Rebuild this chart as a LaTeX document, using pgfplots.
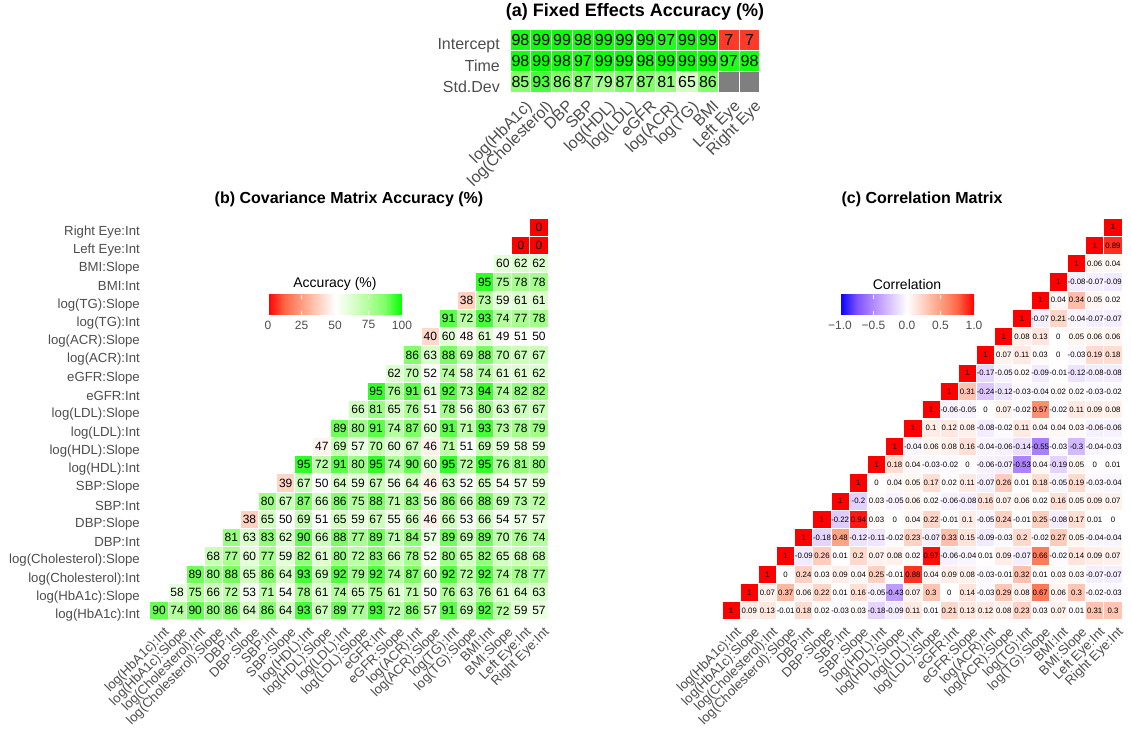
\documentclass[border=0pt]{standalone}
\usepackage{fontspec}
\setmainfont{Liberation Sans}
\usepackage{pgfplots}
\pgfplotsset{compat=1.18}
\definecolor{lbl}{RGB}{77,77,77}
\definecolor{na}{RGB}{127,127,127}
\newcommand\fs[1]{\fontsize{#1pt}{#1pt}\selectfont}
\pgfplotsset{
 /pgf/number format/assume math mode=true,
 colormap={acc}{rgb255=(255,0,0) rgb255=(255,104,70) rgb255=(255,158,129) rgb255=(255,207,191) rgb255=(255,255,255) rgb255=(219,255,205) rgb255=(177,255,154) rgb255=(125,255,100) rgb255=(0,255,0)},
 colormap={corr}{rgb255=(0,0,255) rgb255=(126,81,255) rgb255=(179,139,255) rgb255=(220,196,255) rgb255=(255,255,255) rgb255=(255,207,191) rgb255=(255,158,129) rgb255=(255,104,70) rgb255=(255,0,0)},
 hm/.style={scale only axis, anchor=south west, enlargelimits=false, clip=false,
   axis line style={draw=none}, major tick length=0pt, tick style={draw=none},
   tick label style={text=lbl}},
 cell/.style={point meta=explicit, scatter, only marks, mark=square*, line width=1pt,
   scatter/use mapped color={draw=white, fill=mapped color}},
 txt/.style={draw=none, mark=none, point meta=explicit, nodes near coords, nodes near coords align=center,
   every node near coord/.append style={text=black, inner sep=0pt}},
 cella/.style={cell, mark size=10.4pt},
 cellb/.style={cell, mark size=9.1pt},
 cellc/.style={cell, mark size=9.1pt},
 txta/.style={txt, every node near coord/.append style={font=\fs{16}}},
 txtb/.style={txt, every node near coord/.append style={font=\fs{12}}},
 txtc/.style={txt, every node near coord/.append style={font=\fs{7.8}}},
 /pgfplots/table/rowtab/.style={/pgfplots/table/header=false, /pgfplots/table/row sep=\\,
   /pgfplots/table/x expr=\coordindex+#1, /pgfplots/table/y expr=#1, /pgfplots/table/meta index=0},
 /pgfplots/table/rowa/.style={/pgfplots/table/header=false, /pgfplots/table/row sep=\\,
   /pgfplots/table/x expr=\coordindex, /pgfplots/table/y expr=#1, /pgfplots/table/meta index=0},
}
% one row of cells: coloured squares, then their numbers
\newcommand\crow[3]{\addplot[cell#1] table[#2]{#3};\addplot[txt#1] table[#2]{#3};}
\begin{document}
\begin{tikzpicture}
\path[use as bounding box] (0,0) rectangle (1131pt,738pt);

% ---------------- (a) ----------------
\begin{axis}[hm, at={(510pt,646pt)}, width=250pt, height=62pt,
  xmin=-0.5, xmax=11.5, ymin=-0.5, ymax=2.5,
  colormap name=acc, point meta min=0, point meta max=100,
  xtick={0,...,11}, ytick={0,1,2},
  xticklabels={log(HbA1c),log(Cholesterol),DBP,SBP,log(HDL),log(LDL),eGFR,log(ACR),log(TG),BMI,Left Eye,Right Eye},
  yticklabels={Std.Dev,Time,Intercept},
  xticklabel style={font=\fs{16}, xshift=4pt, yshift=-7pt, rotate=45, anchor=north east, inner sep=0pt},
  yticklabel style={font=\fs{16}, xshift=-10pt, yshift=-5pt, anchor=east, inner sep=0pt},
  title={(a) Fixed Effects Accuracy (\%)},
  title style={font=\fs{18}\bfseries, text=black, yshift=0pt},
]
\crow{a}{rowa=2}{98\\99\\99\\98\\99\\99\\99\\97\\99\\99\\7\\7\\}
\crow{a}{rowa=1}{98\\99\\98\\97\\99\\99\\98\\99\\99\\99\\97\\98\\}
\crow{a}{rowa=0}{85\\93\\86\\87\\79\\87\\87\\81\\65\\86\\}
\addplot[only marks, mark=square*, mark size=10.4pt, line width=1pt, mark options={draw=white, fill=na}] coordinates {(10,0) (11,0)};
\end{axis}

% ---------------- (b) ----------------
\begin{axis}[hm, at={(150pt,118pt)}, width=398pt, height=402pt,
  xmin=-0.5, xmax=21.5, ymin=-0.5, ymax=21.5,
  colormap name=acc, point meta min=0, point meta max=100,
  xtick={0,...,21}, ytick={0,...,21},
  xticklabels={log(HbA1c):Int,log(HbA1c):Slope,log(Cholesterol):Int,log(Cholesterol):Slope,DBP:Int,DBP:Slope,SBP:Int,SBP:Slope,log(HDL):Int,log(HDL):Slope,log(LDL):Int,log(LDL):Slope,eGFR:Int,eGFR:Slope,log(ACR):Int,log(ACR):Slope,log(TG):Int,log(TG):Slope,BMI:Int,BMI:Slope,Left Eye:Int,Right Eye:Int},
  yticklabels={log(HbA1c):Int,log(HbA1c):Slope,log(Cholesterol):Int,log(Cholesterol):Slope,DBP:Int,DBP:Slope,SBP:Int,SBP:Slope,log(HDL):Int,log(HDL):Slope,log(LDL):Int,log(LDL):Slope,eGFR:Int,eGFR:Slope,log(ACR):Int,log(ACR):Slope,log(TG):Int,log(TG):Slope,BMI:Int,BMI:Slope,Left Eye:Int,Right Eye:Int},
  xticklabel style={font=\fs{13.2}, xshift=4pt, yshift=-6pt, rotate=45, anchor=north east, inner sep=0pt},
  yticklabel style={font=\fs{13.2}, xshift=-10pt, yshift=-4.5pt, anchor=east, inner sep=0pt},
  title={(b) Covariance Matrix Accuracy (\%)},
  title style={font=\fs{16}\bfseries, text=black, yshift=1.5pt},
  colorbar horizontal, colorbar/width=20pt,
  colorbar style={at={(parent axis.north west)}, anchor=south west, xshift=118pt, yshift=-88pt,
    width=134pt, height=20pt, scale only axis, axis on top,
    xtick={0,25,50,75,100}, axis line style={draw=none},
    xtick style={draw=white, line width=0.8pt}, major tick length=4pt, tick align=inside,
    xticklabel style={font=\fs{12}, text=lbl, inner sep=0pt, yshift=-6pt},
    title={Accuracy (\%)}, title style={font=\fs{14}, text=black, yshift=-5pt}},
]
\crow{b}{rowtab=0}{90\\74\\90\\80\\86\\64\\86\\64\\93\\67\\89\\77\\93\\72\\86\\57\\91\\69\\92\\72\\59\\57\\}
\crow{b}{rowtab=1}{58\\75\\66\\72\\53\\71\\54\\78\\61\\74\\65\\75\\61\\71\\50\\76\\63\\76\\61\\64\\63\\}
\crow{b}{rowtab=2}{89\\80\\88\\65\\86\\64\\93\\69\\92\\79\\92\\74\\87\\60\\92\\72\\92\\74\\78\\77\\}
\crow{b}{rowtab=3}{68\\77\\60\\77\\59\\82\\61\\80\\72\\83\\66\\78\\52\\80\\65\\82\\65\\68\\68\\}
\crow{b}{rowtab=4}{81\\63\\83\\62\\90\\66\\88\\77\\89\\71\\84\\57\\89\\69\\89\\70\\76\\74\\}
\crow{b}{rowtab=5}{38\\65\\50\\69\\51\\65\\59\\67\\55\\66\\46\\66\\53\\66\\54\\57\\57\\}
\crow{b}{rowtab=6}{80\\67\\87\\66\\86\\75\\88\\71\\83\\56\\86\\66\\88\\69\\73\\72\\}
\crow{b}{rowtab=7}{39\\67\\50\\64\\59\\67\\56\\64\\46\\63\\52\\65\\54\\57\\59\\}
\crow{b}{rowtab=8}{95\\72\\91\\80\\95\\74\\90\\60\\95\\72\\95\\76\\81\\80\\}
\crow{b}{rowtab=9}{47\\69\\57\\70\\60\\67\\46\\71\\51\\69\\59\\58\\59\\}
\crow{b}{rowtab=10}{89\\80\\91\\74\\87\\60\\91\\71\\93\\73\\78\\79\\}
\crow{b}{rowtab=11}{66\\81\\65\\76\\51\\78\\56\\80\\63\\67\\67\\}
\crow{b}{rowtab=12}{95\\76\\91\\61\\92\\73\\94\\74\\82\\82\\}
\crow{b}{rowtab=13}{62\\70\\52\\74\\58\\74\\61\\61\\62\\}
\crow{b}{rowtab=14}{86\\63\\88\\69\\88\\70\\67\\67\\}
\crow{b}{rowtab=15}{40\\60\\48\\61\\49\\51\\50\\}
\crow{b}{rowtab=16}{91\\72\\93\\74\\77\\78\\}
\crow{b}{rowtab=17}{38\\73\\59\\61\\61\\}
\crow{b}{rowtab=18}{95\\75\\78\\78\\}
\crow{b}{rowtab=19}{60\\62\\62\\}
\crow{b}{rowtab=20}{0\\0\\}
\crow{b}{rowtab=21}{0\\}
\end{axis}

% ---------------- (c) ----------------
\begin{axis}[hm, at={(722pt,118pt)}, width=400pt, height=402pt,
  xmin=-0.5, xmax=21.5, ymin=-0.5, ymax=21.5,
  colormap name=corr, point meta min=-1, point meta max=1,
  /pgf/number format/fixed, /pgf/number format/precision=2,
  xtick={0,...,21}, ytick=\empty,
  xticklabels={log(HbA1c):Int,log(HbA1c):Slope,log(Cholesterol):Int,log(Cholesterol):Slope,DBP:Int,DBP:Slope,SBP:Int,SBP:Slope,log(HDL):Int,log(HDL):Slope,log(LDL):Int,log(LDL):Slope,eGFR:Int,eGFR:Slope,log(ACR):Int,log(ACR):Slope,log(TG):Int,log(TG):Slope,BMI:Int,BMI:Slope,Left Eye:Int,Right Eye:Int},
  xticklabel style={font=\fs{13.2}, xshift=4pt, yshift=-6pt, rotate=45, anchor=north east, inner sep=0pt},
  title={(c) Correlation Matrix},
  title style={font=\fs{16}\bfseries, text=black, yshift=1.5pt},
  colorbar horizontal, colorbar/width=20pt,
  colorbar style={at={(parent axis.north west)}, anchor=south west, xshift=118pt, yshift=-88pt,
    width=134pt, height=20pt, scale only axis, axis on top,
    xtick={-1,-0.5,0,0.5,1}, xticklabels={−1.0,−0.5,0.0,0.5,1.0}, axis line style={draw=none},
    xtick style={draw=white, line width=0.8pt}, major tick length=4pt, tick align=inside,
    xticklabel style={font=\fs{12}, text=lbl, inner sep=0pt, yshift=-6pt},
    title={Correlation}, title style={font=\fs{14}, text=black, yshift=-5pt}},
]
\crow{c}{rowtab=0}{1\\0.09\\0.13\\-0.01\\0.18\\0.02\\-0.03\\0.03\\-0.18\\-0.09\\0.11\\0.01\\0.21\\0.13\\0.12\\0.08\\0.23\\0.03\\0.07\\0.01\\0.31\\0.3\\}
\crow{c}{rowtab=1}{1\\0.07\\0.37\\0.06\\0.22\\0.01\\0.16\\-0.05\\-0.43\\0.07\\0.3\\0\\0.14\\-0.03\\0.29\\0.08\\0.67\\0.06\\0.3\\-0.02\\-0.03\\}
\crow{c}{rowtab=2}{1\\0\\0.24\\0.03\\0.09\\0.04\\0.25\\-0.01\\0.88\\0.04\\0.09\\0.08\\-0.03\\-0.01\\0.32\\0.01\\0.03\\0.03\\-0.07\\-0.07\\}
\crow{c}{rowtab=3}{1\\-0.09\\0.26\\0.01\\0.2\\0.07\\0.08\\0.02\\0.97\\-0.06\\-0.04\\0.01\\0.09\\-0.07\\0.66\\-0.02\\0.14\\0.09\\0.07\\}
\crow{c}{rowtab=4}{1\\-0.18\\0.48\\-0.12\\-0.11\\-0.02\\0.23\\-0.07\\0.33\\0.15\\-0.09\\-0.03\\0.2\\-0.02\\0.27\\0.05\\-0.04\\-0.04\\}
\crow{c}{rowtab=5}{1\\-0.22\\0.94\\0.03\\0\\0.04\\0.22\\-0.01\\0.1\\-0.05\\0.24\\-0.01\\0.25\\-0.08\\0.17\\0.01\\0\\}
\crow{c}{rowtab=6}{1\\-0.2\\0.03\\-0.05\\0.06\\0.02\\-0.06\\-0.08\\0.16\\0.07\\0.06\\0.02\\0.16\\0.05\\0.09\\0.07\\}
\crow{c}{rowtab=7}{1\\0\\0.04\\0.05\\0.17\\0.02\\0.11\\-0.07\\0.26\\0.01\\0.18\\-0.05\\0.19\\-0.03\\-0.04\\}
\crow{c}{rowtab=8}{1\\0.18\\0.04\\-0.03\\-0.02\\0\\-0.06\\-0.07\\-0.53\\0.04\\-0.19\\0.05\\0\\0.01\\}
\crow{c}{rowtab=9}{1\\-0.04\\0.06\\0.08\\0.16\\-0.04\\-0.06\\-0.14\\-0.55\\-0.03\\-0.3\\-0.04\\-0.03\\}
\crow{c}{rowtab=10}{1\\0.1\\0.12\\0.08\\-0.08\\-0.02\\0.11\\0.04\\0.04\\0.03\\-0.06\\-0.06\\}
\crow{c}{rowtab=11}{1\\-0.06\\-0.05\\0\\0.07\\-0.02\\0.57\\-0.02\\0.11\\0.09\\0.08\\}
\crow{c}{rowtab=12}{1\\0.31\\-0.24\\-0.12\\-0.03\\-0.04\\0.02\\0.02\\-0.03\\-0.02\\}
\crow{c}{rowtab=13}{1\\-0.17\\-0.05\\0.02\\-0.09\\-0.01\\-0.12\\-0.08\\-0.08\\}
\crow{c}{rowtab=14}{1\\0.07\\0.11\\0.03\\0\\-0.03\\0.19\\0.18\\}
\crow{c}{rowtab=15}{1\\0.08\\0.13\\0\\0.05\\0.06\\0.06\\}
\crow{c}{rowtab=16}{1\\-0.07\\0.21\\-0.04\\-0.07\\-0.07\\}
\crow{c}{rowtab=17}{1\\0.04\\0.34\\0.05\\0.02\\}
\crow{c}{rowtab=18}{1\\-0.08\\-0.07\\-0.09\\}
\crow{c}{rowtab=19}{1\\0.06\\0.04\\}
\crow{c}{rowtab=20}{1\\0.89\\}
\crow{c}{rowtab=21}{1\\}
\end{axis}
\end{tikzpicture}
\end{document}
